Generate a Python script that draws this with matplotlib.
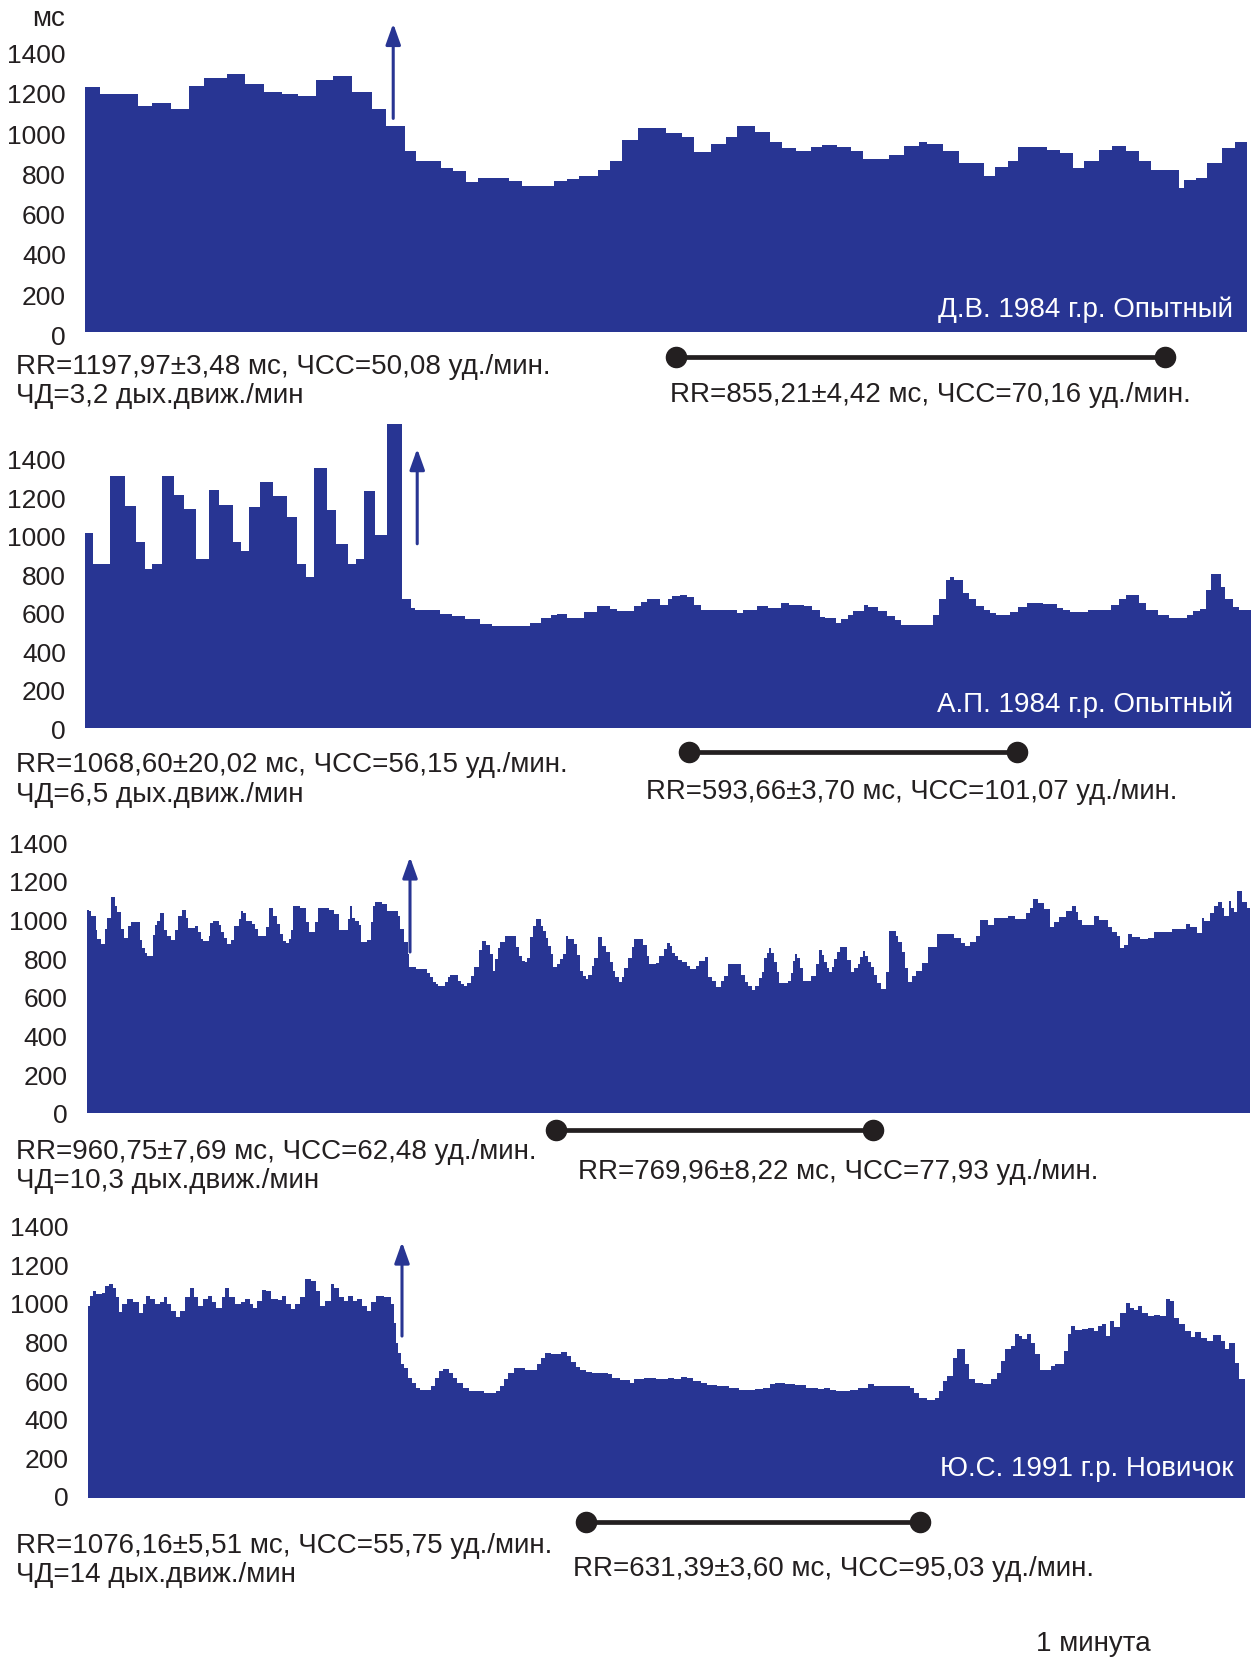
import matplotlib
matplotlib.use('Agg')
import matplotlib.pyplot as plt
import matplotlib.transforms as mtransforms
import numpy as np

plt.rcParams['font.family'] = ['Liberation Sans', 'DejaVu Sans']

W, H = 1252, 1658
BLUE = '#283593'
INK = '#231f20'
YMAX = 1600

# --- Д.В. 1984, опытный: beat onset (s) and RR interval (ms) ---
p1_t = [0.0, 1.5, 5.3, 6.7, 8.6, 10.4, 11.9, 14.2, 16.0, 17.9, 19.7, 21.3,
        23.1, 24.8, 26.7, 28.7, 30.1, 32.0, 33.1, 35.6, 36.8, 38.1, 39.3, 42.4,
        43.7, 46.9, 48.2, 49.4, 51.3, 52.5, 53.7, 55.3, 58.1, 59.7, 60.9, 62.6,
        64.1, 65.2, 67.0, 68.5, 69.7, 71.1, 72.6, 73.7, 75.2, 76.6, 77.8, 80.4,
        81.9, 83.4, 84.2, 85.8, 87.4, 89.9, 91.0, 92.3, 93.3, 96.2, 97.5, 98.8,
        99.9, 101.4, 102.7, 104.1, 105.4, 106.6, 109.4, 109.9, 111.1, 112.2, 113.7, 115.0]
p1_rr = [1214, 1182, 1120, 1134, 1109, 1222, 1263, 1282, 1232, 1192, 1182, 1171,
         1252, 1272, 1192, 1106, 1020, 898, 850, 813, 798, 745, 763, 747,
         727, 747, 759, 775, 802, 851, 954, 1014, 987, 970, 891, 932,
         970, 1020, 993, 943, 912, 898, 918, 927, 918, 898, 860, 876,
         923, 943, 933, 898, 838, 772, 819, 848, 918, 901, 888, 813,
         848, 904, 924, 899, 851, 805, 717, 752, 763, 841, 914, 942]
p1_end = 116.2
p1_stim = 30.8
p1_window = (59.1, 108.0)

# --- А.П. 1984, опытный ---
p2_t = [0.0, 0.8, 2.5, 4.0, 5.1, 6.0, 6.7, 7.7, 8.9, 9.9,
        11.1, 12.4, 13.4, 14.8, 15.6, 16.4, 17.5, 18.8, 20.2, 21.2,
        22.1, 22.9, 24.2, 25.1, 26.3, 27.1, 27.9, 29.0, 30.2, 31.7,
        32.6, 33.0, 35.5, 36.7, 38.0, 39.5, 40.7, 44.5, 45.6, 46.6,
        47.2, 48.2, 49.9, 51.2, 52.5, 53.2, 54.9, 55.6, 56.2, 57.5,
        58.3, 58.7, 59.5, 60.2, 60.9, 61.6, 65.2, 65.8, 67.2, 68.3,
        69.6, 70.4, 71.9, 72.7, 73.5, 74.0, 75.1, 75.6, 76.3, 76.8,
        77.9, 78.3, 79.3, 80.2, 81.0, 81.6, 84.8, 85.4, 86.1, 86.5,
        86.9, 87.8, 88.4, 89.1, 89.9, 90.5, 91.1, 92.0, 92.5, 93.3,
        94.2, 95.8, 97.2, 97.8, 98.5, 100.3, 102.6, 103.4, 104.1, 105.4,
        106.1, 107.3, 108.4, 110.2, 110.8, 111.5, 112.1, 112.6, 113.6, 114.0,
        114.8, 115.4]
p2_rr = [1015, 852, 1307, 1153, 964, 828, 852, 1309, 1212, 1139,
         880, 1234, 1157, 964, 917, 1146, 1276, 1203, 1098, 854,
         784, 1351, 1134, 957, 852, 880, 1231, 1001, 1577, 670,
         625, 613, 594, 582, 568, 542, 530, 545, 571, 585,
         590, 573, 604, 633, 620, 609, 633, 655, 672, 641,
         672, 686, 693, 680, 641, 611, 599, 611, 632, 623,
         649, 641, 633, 611, 577, 573, 547, 564, 589, 608,
         637, 628, 608, 582, 559, 533, 585, 672, 767, 784,
         771, 703, 668, 633, 615, 599, 589, 585, 603, 628,
         651, 645, 625, 611, 603, 611, 637, 668, 689, 651,
         611, 585, 573, 585, 608, 616, 715, 800, 733, 672,
         628, 611]
p2_end = 116.6
p2_stim = 33.2
p2_window = (60.4, 93.2)

# --- третий испытуемый ---
p3_t = [0.0, 0.2, 0.4, 0.9, 1.0, 1.4, 1.8, 2.0, 2.4, 2.8,
        3.0, 3.4, 3.7, 4.1, 4.4, 5.3, 5.5, 5.8, 6.0, 6.6,
        6.8, 7.0, 7.3, 7.7, 8.0, 8.4, 8.8, 9.1, 9.5, 9.9,
        10.1, 10.8, 11.1, 11.4, 11.6, 12.2, 12.3, 12.6, 13.2, 13.4,
        13.7, 14.0, 14.4, 14.7, 15.2, 15.4, 15.6, 15.9, 16.5, 16.8,
        17.1, 17.9, 18.2, 18.6, 19.0, 19.3, 19.6, 19.9, 20.2, 20.4,
        20.6, 21.3, 21.9, 22.2, 22.8, 23.1, 24.2, 24.7, 25.2, 26.1,
        26.3, 26.5, 26.8, 27.2, 27.4, 28.0, 28.4, 28.6, 28.8, 29.5,
        30.0, 31.1, 31.3, 31.7, 32.1, 32.2, 32.9, 34.0, 34.3, 34.6,
        34.9, 35.1, 35.8, 36.1, 36.3, 37.1, 37.4, 37.7, 38.0, 38.4,
        38.7, 39.2, 39.5, 39.9, 40.3, 40.6, 40.8, 41.1, 41.3, 41.8,
        42.9, 43.2, 43.5, 43.8, 44.0, 44.3, 44.6, 44.9, 45.4, 45.6,
        45.9, 46.1, 46.4, 46.6, 47.0, 47.3, 47.6, 47.9, 48.1, 48.7,
        49.0, 49.3, 49.6, 49.9, 50.1, 50.5, 50.7, 51.1, 51.5, 51.9,
        52.3, 52.6, 52.8, 53.2, 53.5, 53.7, 54.1, 54.5, 54.7, 55.6,
        56.0, 56.2, 56.9, 57.2, 57.7, 58.0, 58.3, 58.5, 58.8, 59.1,
        59.5, 60.0, 60.3, 60.9, 61.2, 61.8, 62.1, 62.5, 62.9, 63.4,
        63.7, 64.1, 65.4, 65.8, 66.1, 66.5, 66.8, 67.2, 67.5, 67.7,
        68.0, 68.2, 68.4, 68.7, 69.0, 69.2, 70.1, 70.4, 70.6, 70.8,
        71.0, 71.3, 71.6, 72.4, 72.9, 73.2, 73.5, 73.7, 74.0, 74.2,
        74.5, 74.7, 75.0, 75.3, 76.0, 76.4, 76.7, 77.1, 77.3, 77.6,
        77.8, 78.1, 78.4, 78.7, 79.0, 79.4, 79.9, 80.2, 80.9, 81.1,
        81.5, 81.8, 82.1, 82.5, 82.9, 83.5, 84.1, 85.0, 86.7, 87.4,
        87.8, 88.3, 88.9, 89.3, 90.1, 90.7, 92.1, 92.8, 93.9, 94.3,
        94.6, 95.1, 95.7, 96.3, 96.7, 97.2, 97.9, 98.5, 98.9, 99.1,
        99.5, 100.7, 101.2, 102.1, 102.5, 103.0, 103.3, 103.7, 104.1, 104.5,
        105.3, 106.1, 106.7, 108.5, 109.9, 110.3, 111.0, 111.5, 111.7, 112.3,
        112.7, 113.1, 113.5, 113.7, 114.2, 114.4, 114.7, 115.0, 115.5, 116.0]
p3_rr = [1051, 1042, 1016, 947, 899, 873, 951, 1006, 1115, 1071,
         1040, 951, 906, 965, 987, 892, 851, 827, 813, 920,
         972, 992, 1032, 944, 916, 892, 946, 1016, 1051, 1006,
         958, 968, 937, 899, 887, 913, 982, 992, 972, 934,
         903, 875, 896, 968, 1003, 1042, 1032, 992, 975, 951,
         913, 961, 1059, 1018, 975, 927, 889, 877, 899, 947,
         1071, 1058, 985, 934, 989, 1058, 1047, 1028, 944, 1003,
         1071, 1010, 992, 973, 882, 896, 985, 1071, 1089, 1080,
         1042, 1020, 951, 885, 822, 753, 744, 724, 701, 679,
         665, 655, 675, 701, 715, 682, 667, 655, 672, 710,
         753, 842, 891, 868, 822, 736, 796, 851, 885, 913,
         856, 813, 787, 779, 803, 911, 968, 1003, 968, 942,
         903, 865, 822, 753, 768, 796, 822, 913, 899, 873,
         817, 736, 710, 693, 715, 761, 799, 908, 865, 834,
         782, 736, 701, 675, 701, 749, 799, 856, 899, 868,
         810, 770, 775, 813, 847, 877, 861, 827, 810, 792,
         779, 761, 744, 758, 784, 804, 701, 684, 649, 684,
         710, 770, 713, 675, 658, 636, 658, 696, 730, 799,
         827, 851, 827, 779, 727, 672, 684, 724, 787, 820,
         799, 748, 684, 710, 770, 844, 817, 782, 748, 730,
         753, 796, 830, 860, 792, 730, 748, 770, 808, 839,
         810, 782, 753, 713, 672, 641, 727, 942, 916, 882,
         830, 748, 679, 710, 732, 773, 856, 927, 904, 879,
         865, 885, 913, 999, 973, 1008, 1020, 1001, 1034, 1059,
         1106, 1087, 1054, 960, 989, 1011, 1046, 1071, 1037, 999,
         973, 1020, 996, 963, 934, 916, 851, 868, 927, 910,
         899, 906, 937, 951, 978, 961, 928, 1006, 991, 1032,
         1071, 1092, 1059, 1018, 1094, 1059, 1037, 1147, 1092, 1059]
p3_end = 116.3
p3_stim = 32.3
p3_window = (46.9, 78.6)

# --- Ю.С. 1991, новичок ---
p4_t = [0.0, 0.2, 0.5, 0.8, 1.4, 1.7, 2.1, 2.5, 2.8, 3.1,
        3.4, 3.9, 4.5, 5.1, 5.5, 5.8, 6.2, 6.7, 7.2, 7.6,
        7.9, 8.3, 8.8, 9.2, 9.7, 10.2, 10.6, 11.0, 11.5, 12.0,
        12.4, 12.8, 13.4, 13.7, 14.1, 14.7, 15.3, 15.7, 16.2, 16.5,
        16.9, 17.4, 17.8, 18.3, 19.0, 19.4, 19.8, 20.3, 20.7, 21.2,
        21.7, 22.3, 22.8, 23.2, 23.7, 24.3, 24.6, 25.1, 25.6, 26.0,
        26.5, 26.9, 27.4, 27.9, 28.3, 28.8, 29.6, 30.3, 30.6, 30.8,
        31.0, 31.3, 31.6, 32.0, 32.4, 32.8, 33.2, 34.3, 34.7, 35.1,
        35.5, 36.1, 36.5, 36.9, 37.5, 38.1, 39.6, 40.8, 41.2, 41.6,
        42.0, 42.6, 43.7, 44.9, 45.3, 45.7, 46.3, 47.3, 47.9, 48.3,
        48.8, 49.2, 49.8, 50.4, 52.0, 52.4, 53.2, 54.2, 54.6, 55.6,
        56.8, 58.0, 58.6, 59.3, 59.9, 60.5, 61.3, 61.9, 62.9, 64.1,
        65.1, 66.7, 67.5, 68.2, 68.7, 69.7, 70.7, 71.8, 73.0, 73.6,
        74.2, 74.8, 76.2, 77.0, 78.0, 78.6, 82.2, 82.6, 83.1, 83.9,
        84.7, 85.1, 85.5, 85.9, 86.5, 86.9, 87.7, 88.1, 88.7, 89.5,
        90.3, 90.9, 91.3, 91.7, 92.3, 92.7, 93.1, 93.4, 93.9, 94.3,
        94.7, 95.2, 96.3, 96.7, 97.6, 98.0, 98.3, 98.7, 99.4, 100.0,
        100.6, 101.0, 101.4, 101.8, 102.2, 102.6, 103.2, 103.8, 104.2, 104.6,
        105.0, 105.4, 106.0, 106.6, 107.2, 107.8, 108.2, 108.6, 109.1, 109.7,
        110.3, 110.7, 111.3, 111.9, 112.5, 113.3, 113.7, 114.1, 114.7, 115.1]
p4_rr = [995, 1047, 1070, 1056, 1064, 1099, 1111, 1087, 1039, 966,
         1004, 1030, 1013, 961, 1004, 1049, 1030, 1004, 1016, 1039,
         1004, 970, 939, 970, 1042, 1087, 1042, 995, 1030, 1047,
         1018, 987, 1039, 1087, 1042, 1004, 1016, 1030, 1004, 987,
         1021, 1078, 1070, 1030, 1025, 1047, 1004, 978, 1004, 1042,
         1133, 1125, 1073, 995, 1021, 1108, 1090, 1042, 1021, 1047,
         1021, 1030, 995, 970, 1013, 1047, 1042, 1004, 909, 805,
         753, 693, 676, 624, 598, 572, 560, 580, 624, 658,
         667, 650, 624, 598, 572, 554, 546, 554, 580, 615,
         650, 676, 662, 693, 727, 753, 744, 758, 736, 707,
         679, 662, 655, 650, 645, 624, 612, 598, 615, 620,
         615, 620, 615, 627, 620, 607, 594, 585, 580, 572,
         560, 563, 572, 589, 598, 592, 585, 572, 563, 568,
         558, 554, 560, 568, 589, 580, 572, 546, 520, 506,
         516, 554, 607, 632, 727, 770, 693, 615, 598, 592,
         615, 650, 710, 770, 787, 848, 839, 822, 848, 805,
         744, 662, 684, 696, 761, 848, 891, 869, 874, 883,
         865, 891, 899, 839, 917, 886, 961, 1008, 987, 973,
         995, 961, 944, 949, 944, 1030, 1021, 935, 904, 865,
         834, 862, 831, 813, 844, 813, 770, 805, 701, 615]
p4_end = 115.7
p4_stim = 31.4
p4_window = (49.8, 83.2)

fig = plt.figure(figsize=(W / 100, H / 100), dpi=100)


def fx(x):
    return x / W


def fy(y):
    return 1 - y / H


def panel(left, right, zero_y, px_per_ms, t, rr, t_end, label_shift=0.0):
    ax = fig.add_axes([fx(left), fy(zero_y), (right - left) / W, YMAX * px_per_ms / H])
    edges = np.append(t, t_end)
    ax.stairs(rr, edges, fill=True, color=BLUE, baseline=0, lw=0)
    ax.set_xlim(0, t_end)
    ax.set_ylim(0, YMAX)
    ax.set_xticks([])
    ax.set_yticks(range(0, 1401, 200))
    ax.tick_params(axis='y', length=0, pad=14, labelsize=19, labelcolor=INK)
    # nudge the tick numbers down a few pixels
    off = mtransforms.ScaledTranslation(0, -label_shift / 100, fig.dpi_scale_trans)
    for lbl in ax.get_yticklabels():
        lbl.set_transform(lbl.get_transform() + off)
    for s in ax.spines.values():
        s.set_visible(False)
    ax.patch.set_visible(False)
    return ax


def stimulus(ax, t, bottom, top):
    ax.annotate('', xy=(t, top), xytext=(t, bottom),
                arrowprops=dict(arrowstyle='-|>,head_length=0.7,head_width=0.25',
                                color=BLUE, lw=2.2, shrinkA=0, shrinkB=0,
                                mutation_scale=18))


def window(ax, span, y):
    tr = mtransforms.blended_transform_factory(ax.transData, fig.transFigure)
    ax.plot(span, [fy(y), fy(y)], color=INK, lw=3.4, marker='o', ms=14.5,
            transform=tr, clip_on=False, solid_capstyle='butt')


def label(x, y, s, **kw):
    kw.setdefault('color', INK)
    kw.setdefault('fontsize', 20)
    kw.setdefault('va', 'center')
    fig.text(fx(x), fy(y + 2.5), s, **kw)


ax1 = panel(85.3, 1247, 333, 0.2015, p1_t, p1_rr, p1_end, label_shift=2.6)
stimulus(ax1, p1_stim, 1060, 1531)
window(ax1, p1_window, 358)
label(49, 16, 'мс', ha='center')
label(1233, 307, 'Д.В. 1984 г.р. Опытный', ha='right', color='white')
label(16, 365, 'RR=1197,97±3,48 мс, ЧСС=50,08 уд./мин.')
label(16, 394, 'ЧД=3,2 дых.движ./мин')
label(670, 392, 'RR=855,21±4,42 мс, ЧСС=70,16 уд./мин.')

ax2 = panel(85.3, 1251, 729, 0.1925, p2_t, p2_rr, p2_end, label_shift=0.3)
stimulus(ax2, p2_stim, 957, 1451)
window(ax2, p2_window, 753)
label(1233, 702, 'А.П. 1984 г.р. Опытный', ha='right', color='white')
label(16, 763, 'RR=1068,60±20,02 мс, ЧСС=56,15 уд./мин.')
label(16, 793, 'ЧД=6,5 дых.движ./мин')
label(646, 790, 'RR=593,66±3,70 мс, ЧСС=101,07 уд./мин.', fontsize=19.8)

ax3 = panel(87, 1250, 1114, 0.1935, p3_t, p3_rr, p3_end)
stimulus(ax3, p3_stim, 832, 1323)
window(ax3, p3_window, 1131)
label(16, 1150, 'RR=960,75±7,69 мс, ЧСС=62,48 уд./мин.')
label(16, 1179, 'ЧД=10,3 дых.движ./мин')
label(578, 1170, 'RR=769,96±8,22 мс, ЧСС=77,93 уд./мин.')

ax4 = panel(88, 1245, 1499, 0.193, p4_t, p4_rr, p4_end, label_shift=-2.0)
stimulus(ax4, p4_stim, 839, 1326)
window(ax4, p4_window, 1523)
label(1233, 1467, 'Ю.С. 1991 г.р. Новичок', ha='right', color='white')
label(16, 1544, 'RR=1076,16±5,51 мс, ЧСС=55,75 уд./мин.')
label(16, 1573, 'ЧД=14 дых.движ./мин')
label(573, 1567, 'RR=631,39±3,60 мс, ЧСС=95,03 уд./мин.')

label(1036, 1642, '1 минута')

fig.savefig('out.png', dpi=100)
